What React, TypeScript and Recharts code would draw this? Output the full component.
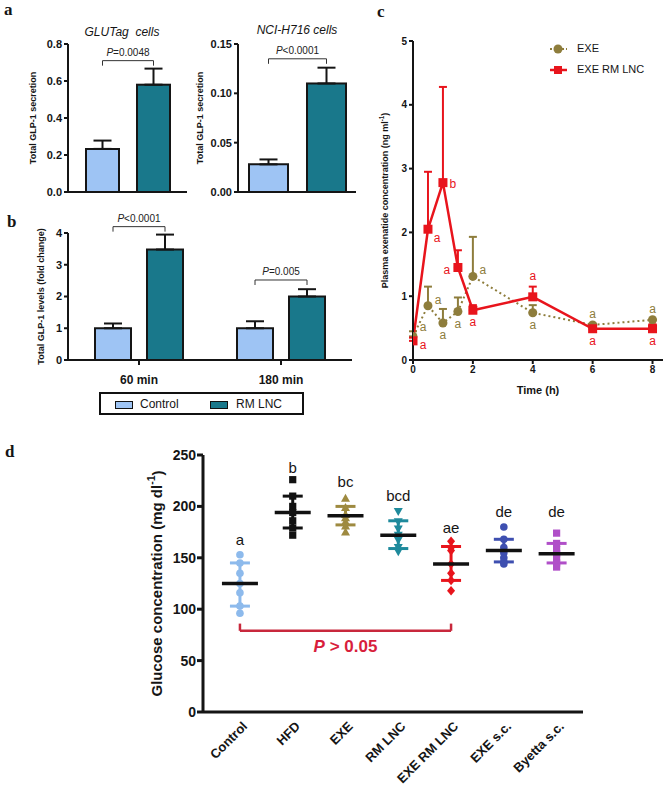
import React from "react";
import {
  BarChart,
  Bar,
  XAxis,
  YAxis,
  ErrorBar,
  LineChart,
  Line,
  ScatterChart,
  Scatter,
  ReferenceLine,
} from "recharts";

const FONT = "'Liberation Sans', Arial, Helvetica, sans-serif";
const INK = "#151515";
const CONTROL_BLUE = "#9ec4f4";
const RM_TEAL = "#19788b";
const RED = "#e8141c";
const OLIVE = "#8e7d3c";

// panel a: [Control, RM LNC]
const glutagMeans = [0.233, 0.58];
const glutagErr = [0.045, 0.087];
const glutagBracket = 0.71;
const ncMeans = [0.028, 0.11];
const ncErr = [0.005, 0.016];
const ncBracket = 0.135;

// panel b
const foldTimes = ["60 min", "180 min"];
const foldControl = [1.0, 1.0];
const foldControlErr = [0.15, 0.22];
const foldRm = [3.48, 2.0];
const foldRmErr = [0.47, 0.23];
const foldBrackets = [4.2, 2.52];
const foldP = ["<0.0001", "=0.005"];

// panel c
const hours = [0, 0.5, 1, 1.5, 2, 4, 6, 8];
const exeMean = [0.37, 0.85, 0.58, 0.76, 1.31, 0.74, 0.55, 0.63];
const exeUpper = [0.45, 1.15, 0.8, 0.98, 1.93, 0.86, 0.57, 0.63];
const rmMean = [0.3, 2.05, 2.78, 1.45, 0.78, 0.99, 0.49, 0.49];
const rmUpper = [0.35, 2.95, 4.28, 1.72, 0.86, 1.15, 0.52, 0.56];
const exeLetters = ["a", "a", "a", "a", "a", "a", "a", "a"];
const exeLetterPos = ["RUU", "RU", "D", "D", "RU", "D", "U", "U"];
const rmLetters = ["a", "a", "b", "a", "a", "a", "a", "a"];
const rmLetterPos = ["RL", "RD", "R", "L", "D", "UU", "D", "D"];

// panel d
const groups = ["Control", "HFD", "EXE", "RM LNC", "EXE RM LNC", "EXE s.c.", "Byetta s.c."];
const controlPts = [153, 145, 135, 125, 116, 103, 96];
const hfdPts = [226, 210, 200, 194, 186, 179, 172];
const exePts = [208, 199, 192, 189, 185, 181, 175];
const rmPts = [195, 185, 178, 172, 167, 160, 156];
const exeRmPts = [166, 160, 157, 144, 135, 128, 118];
const exeScPts = [180, 168, 160, 155, 150, 146, 144];
const byettaPts = [174, 164, 158, 154, 150, 145, 141];
const groupMeans = [125, 194, 191, 172, 144, 157, 154];
const sdLow = [103, 179, 182, 159, 128, 146, 145];
const sdHigh = [145, 210, 200, 186, 161, 168, 164];
const groupLetters = ["a", "b", "bc", "bcd", "ae", "de", "de"];
const letterY = [168, 238, 224, 211, 179, 195, 195];

const groupPoints = [controlPts, hfdPts, exePts, rmPts, exeRmPts, exeScPts, byettaPts];
const groupColors = ["#8dbaec", "#111111", "#9e8a40", "#1e8a9c", "#e8141c", "#3e4fb0", "#b04fc8"];
const groupMarkers = ["circle", "square", "up", "down", "diamond", "circle", "square"];

const axis2 = { stroke: INK, strokeWidth: 2 };
const tick11 = { fontSize: 11, fontWeight: 700, fill: INK, fontFamily: FONT };

function VLabel(props: any) {
  const { viewBox, text, size, dx = 0, sup } = props;
  const cx = viewBox.x + viewBox.width / 2 + dx;
  const cy = viewBox.y + viewBox.height / 2;
  return (
    <text
      x={cx}
      y={cy}
      transform={`rotate(-90 ${cx} ${cy})`}
      textAnchor="middle"
      dominantBaseline="central"
      fontSize={size}
      fontWeight={700}
      fill={INK}
      fontFamily={FONT}
    >
      {text}
      {sup && (
        <tspan dy={-size * 0.4} fontSize={size * 0.7}>
          {sup}
        </tspan>
      )}
      {sup && <tspan dy={size * 0.4}>)</tspan>}
    </text>
  );
}

// RM LNC bar with the P-value bracket back to the paired Control bar
const bracketBar = (gap: number, fontSize: number) => (props: any) => {
  const { x, y, width, height, payload } = props;
  const k = height / payload.rm;
  const by = y + height - payload.bracket * k;
  const x1 = x - gap - width / 2;
  const x2 = x + width / 2;
  return (
    <g>
      <rect x={x} y={y} width={width} height={height} fill={RM_TEAL} stroke={INK} strokeWidth={2} />
      <path d={`M${x1},${by + 5}V${by}H${x2}V${by + 5}`} fill="none" stroke="#333" strokeWidth={1} />
      <text x={(x1 + x2) / 2} y={by - 5} textAnchor="middle" fontSize={fontSize} fill="#222" fontFamily={FONT}>
        <tspan fontStyle="italic">P</tspan>
        {payload.p}
      </text>
    </g>
  );
};

const glutagRows = [
  {
    name: "GLUTag",
    control: glutagMeans[0],
    rm: glutagMeans[1],
    controlErr: [0, glutagErr[0]],
    rmErr: [0, glutagErr[1]],
    bracket: glutagBracket,
    p: "=0.0048",
  },
];
const ncRows = [
  {
    name: "NCI-H716",
    control: ncMeans[0],
    rm: ncMeans[1],
    controlErr: [0, ncErr[0]],
    rmErr: [0, ncErr[1]],
    bracket: ncBracket,
    p: "<0.0001",
  },
];
const foldRows = foldTimes.map((name, i) => ({
  name,
  control: foldControl[i],
  rm: foldRm[i],
  controlErr: [0, foldControlErr[i]],
  rmErr: [0, foldRmErr[i]],
  bracket: foldBrackets[i],
  p: foldP[i],
}));

const pkRows = hours.map((t, i) => ({
  t,
  exe: exeMean[i],
  exeErr: [0, exeUpper[i] - exeMean[i]],
  rm: rmMean[i],
  rmErr: [0, rmUpper[i] - rmMean[i]],
}));

const LETTER_OFFSET: Record<string, number[]> = {
  R: [10, 1],
  RL: [10, 4],
  RU: [10, -6],
  RUU: [10, -9],
  RD: [9, 9],
  L: [-11, 3],
  D: [0, 12],
  U: [0, -11],
  UU: [0, -21],
};

const pkDot = (kind: string, color: string, letters: string[], pos: string[]) => (props: any) => {
  const { cx, cy, index } = props;
  const [dx, dy] = LETTER_OFFSET[pos[index]];
  return (
    <g key={`${kind}-${index}`}>
      {kind === "square" ? (
        <rect x={cx - 4.5} y={cy - 4.5} width={9} height={9} fill={color} />
      ) : (
        <circle cx={cx} cy={cy} r={4.5} fill={color} />
      )}
      <text
        x={cx + dx}
        y={cy + dy}
        textAnchor="middle"
        dominantBaseline="central"
        fontSize={12}
        fill={color}
        fontFamily={FONT}
      >
        {letters[index]}
      </text>
    </g>
  );
};

const marker = (kind: string, color: string) => (props: any) => {
  const { cx, cy } = props;
  if (kind === "circle") return <circle cx={cx} cy={cy} r={3.8} fill={color} />;
  if (kind === "square") return <rect x={cx - 3.6} y={cy - 3.6} width={7.2} height={7.2} fill={color} />;
  if (kind === "up")
    return <path d={`M${cx},${cy - 4.5}L${cx + 4.5},${cy + 3.5}L${cx - 4.5},${cy + 3.5}Z`} fill={color} />;
  if (kind === "down")
    return <path d={`M${cx},${cy + 4.5}L${cx + 4.5},${cy - 3.5}L${cx - 4.5},${cy - 3.5}Z`} fill={color} />;
  return <path d={`M${cx},${cy - 4.8}L${cx + 4},${cy}L${cx},${cy + 4.8}L${cx - 4},${cy}Z`} fill={color} />;
};

const meanLine = (props: any) => {
  const { cx, cy } = props;
  return <line x1={cx - 18} x2={cx + 18} y1={cy} y2={cy} stroke="#111" strokeWidth={3.5} />;
};

const letterShape = (props: any) => {
  const { cx, cy, payload } = props;
  return (
    <text
      x={cx}
      y={cy}
      textAnchor="middle"
      dominantBaseline="central"
      fontSize={payload.size}
      fontWeight={payload.bold ? 700 : 400}
      fill={payload.color}
      fontFamily={FONT}
    >
      {payload.italic && <tspan fontStyle="italic">{payload.italic}</tspan>}
      {payload.label}
    </text>
  );
};

const GroupTick = (props: any) => {
  const { x, y, payload } = props;
  const ax = x + 5;
  const ay = y + 6;
  return (
    <text
      x={ax}
      y={ay}
      transform={`rotate(-45 ${ax} ${ay})`}
      textAnchor="end"
      dominantBaseline="central"
      fontSize={13}
      fontWeight={700}
      fill={INK}
      fontFamily={FONT}
    >
      {groups[payload.value]}
    </text>
  );
};

const letterRows = groupLetters.map((label, i) => ({ x: i, y: letterY[i], label, size: 15, color: INK }));
const pRow = [{ x: 2, y: 64, label: " > 0.05", italic: "P", size: 17, bold: true, color: "#d81e3c" }];

function PanelLetter({ x, y, ch }: { x: number; y: number; ch: string }) {
  return (
    <div
      style={{
        position: "absolute",
        left: x,
        top: y,
        fontFamily: "'Liberation Serif', 'Times New Roman', serif",
        fontWeight: 700,
        fontSize: 17,
        lineHeight: "17px",
      }}
    >
      {ch}
    </div>
  );
}

function GlpBars({ rows, width, height, margin, yWidth, domain, ticks, digits, barSize, gap, label, labelDx }: any) {
  return (
    <BarChart width={width} height={height} data={rows} margin={margin} barGap={gap} barSize={barSize}>
      <XAxis dataKey="name" tick={false} tickLine={false} axisLine={axis2} height={2} />
      <YAxis
        width={yWidth}
        domain={domain}
        ticks={ticks}
        tickFormatter={(v: number) => v.toFixed(digits)}
        tick={tick11}
        tickSize={4}
        tickLine={axis2}
        axisLine={axis2}
        interval={0}
        label={<VLabel text={label} size={9} dx={labelDx} />}
      />
      <Bar dataKey="control" fill={CONTROL_BLUE} stroke={INK} strokeWidth={2} isAnimationActive={false}>
        <ErrorBar dataKey="controlErr" width={9} stroke={INK} strokeWidth={2} direction="y" />
      </Bar>
      <Bar dataKey="rm" fill={RM_TEAL} shape={bracketBar(gap, 10)} isAnimationActive={false}>
        <ErrorBar dataKey="rmErr" width={9} stroke={INK} strokeWidth={2} direction="y" />
      </Bar>
    </BarChart>
  );
}

export default function App() {
  return (
    <div
      style={{
        position: "absolute",
        left: 0,
        top: 0,
        width: 669,
        height: 788,
        background: "#fff",
        fontFamily: FONT,
        color: INK,
        overflow: "hidden",
      }}
    >
      <PanelLetter x={4} y={1} ch="a" />
      <PanelLetter x={7} y={213} ch="b" />
      <PanelLetter x={377} y={3} ch="c" />
      <PanelLetter x={5} y={443} ch="d" />

      <div style={{ position: "absolute", left: 72, top: 25, width: 100, textAlign: "center", fontStyle: "italic", fontSize: 12 }}>
        GLUTag&nbsp;&nbsp;cells
      </div>
      <div style={{ position: "absolute", left: 237, top: 23, width: 120, textAlign: "center", fontStyle: "italic", fontSize: 12 }}>
        NCI-H716 cells
      </div>

      {/* panel a */}
      <div style={{ position: "absolute", left: 0, top: 0 }}>
        <GlpBars
          rows={glutagRows}
          width={200}
          height={200}
          margin={{ top: 44, right: 13, bottom: 6, left: 0 }}
          yWidth={68}
          domain={[0, 0.8]}
          ticks={[0, 0.2, 0.4, 0.6, 0.8]}
          digits={1}
          barSize={33}
          gap={18}
          label="Total GLP-1 secretion"
          labelDx={-1}
        />
      </div>
      <div style={{ position: "absolute", left: 190, top: 0 }}>
        <GlpBars
          rows={ncRows}
          width={180}
          height={200}
          margin={{ top: 44, right: 14, bottom: 6, left: 0 }}
          yWidth={48}
          domain={[0, 0.15]}
          ticks={[0, 0.05, 0.1, 0.15]}
          digits={2}
          barSize={39}
          gap={19}
          label="Total GLP-1 secretion"
          labelDx={-14}
        />
      </div>

      {/* panel b */}
      <div style={{ position: "absolute", left: 0, top: 200 }}>
        <BarChart
          width={370}
          height={200}
          data={foldRows}
          margin={{ top: 33, right: 18, bottom: 10, left: 0 }}
          barGap={16}
          barSize={36}
        >
          <XAxis
            dataKey="name"
            tick={{ fontSize: 12, fontWeight: 700, fill: INK, fontFamily: FONT }}
            tickSize={5}
            tickMargin={10}
            tickLine={axis2}
            axisLine={axis2}
            height={30}
          />
          <YAxis
            width={68}
            domain={[0, 4]}
            ticks={[0, 1, 2, 3, 4]}
            tick={tick11}
            tickSize={4}
            tickLine={axis2}
            axisLine={axis2}
            interval={0}
            label={<VLabel text="Total GLP-1 levels (fold change)" size={9} dx={7} />}
          />
          <Bar dataKey="control" fill={CONTROL_BLUE} stroke={INK} strokeWidth={2} isAnimationActive={false}>
            <ErrorBar dataKey="controlErr" width={9} stroke={INK} strokeWidth={2} direction="y" />
          </Bar>
          <Bar dataKey="rm" fill={RM_TEAL} shape={bracketBar(16, 10)} isAnimationActive={false}>
            <ErrorBar dataKey="rmErr" width={9} stroke={INK} strokeWidth={2} direction="y" />
          </Bar>
        </BarChart>
      </div>

      {/* legend for a and b */}
      <div
        style={{
          position: "absolute",
          left: 99,
          top: 392,
          width: 205,
          height: 23,
          border: "2px solid #111",
          boxSizing: "border-box",
          fontSize: 12,
        }}
      >
        <div style={{ position: "absolute", left: 14, top: 7, width: 16, height: 6, background: CONTROL_BLUE, border: "1.5px solid #111" }} />
        <div style={{ position: "absolute", left: 39, top: 3, lineHeight: "14px" }}>Control</div>
        <div style={{ position: "absolute", left: 109, top: 7, width: 16, height: 6, background: RM_TEAL, border: "1.5px solid #111" }} />
        <div style={{ position: "absolute", left: 135, top: 3, lineHeight: "14px" }}>RM LNC</div>
      </div>

      {/* panel c */}
      <div style={{ position: "absolute", left: 370, top: 0 }}>
        <LineChart width={299} height={400} data={pkRows} margin={{ top: 41, right: 6, bottom: 4, left: 0 }}>
          <XAxis
            type="number"
            dataKey="t"
            domain={[0, 8.35]}
            ticks={[0, 2, 4, 6, 8]}
            tick={{ fontSize: 10, fontWeight: 700, fill: INK, fontFamily: FONT }}
            tickSize={4}
            tickLine={axis2}
            axisLine={axis2}
            height={36}
            allowDataOverflow
            label={{ value: "Time (h)", position: "insideBottom", offset: 2, fontSize: 11, fontWeight: 700, fill: INK }}
          />
          <YAxis
            width={43}
            domain={[0, 5]}
            ticks={[0, 1, 2, 3, 4, 5]}
            tick={{ fontSize: 10, fontWeight: 700, fill: INK, fontFamily: FONT }}
            tickSize={4}
            tickLine={axis2}
            axisLine={axis2}
            interval={0}
            allowDataOverflow
            label={<VLabel text="Plasma exenatide concentration (ng ml" sup="-1" size={9} dx={-7} />}
          />
          <Line
            type="linear"
            dataKey="exe"
            stroke={OLIVE}
            strokeWidth={2}
            strokeDasharray="2 3"
            dot={pkDot("circle", OLIVE, exeLetters, exeLetterPos)}
            isAnimationActive={false}
          >
            <ErrorBar dataKey="exeErr" width={4} stroke={OLIVE} strokeWidth={2} direction="y" />
          </Line>
          <Line
            type="linear"
            dataKey="rm"
            stroke={RED}
            strokeWidth={2.5}
            dot={pkDot("square", RED, rmLetters, rmLetterPos)}
            isAnimationActive={false}
          >
            <ErrorBar dataKey="rmErr" width={4} stroke={RED} strokeWidth={2} direction="y" />
          </Line>
        </LineChart>
      </div>

      {/* legend for c */}
      <div style={{ position: "absolute", left: 548, top: 40, fontSize: 11 }}>
        <svg width={22} height={40} style={{ position: "absolute", left: 0, top: 0 }}>
          <line x1={2} x2={19} y1={9} y2={9} stroke={OLIVE} strokeWidth={2} strokeDasharray="2 2" />
          <circle cx={10} cy={9} r={4.5} fill={OLIVE} />
          <line x1={2} x2={19} y1={30} y2={30} stroke={RED} strokeWidth={2.5} />
          <rect x={6} y={26} width={8} height={8} fill={RED} />
        </svg>
        <div style={{ position: "absolute", left: 29, top: 2, whiteSpace: "nowrap" }}>EXE</div>
        <div style={{ position: "absolute", left: 29, top: 23, whiteSpace: "nowrap" }}>EXE RM LNC</div>
      </div>

      {/* panel d */}
      <div style={{ position: "absolute", left: 100, top: 420 }}>
        <ScatterChart width={569} height={368} margin={{ top: 35, right: 86, bottom: 0, left: 0 }}>
          <XAxis
            type="number"
            dataKey="x"
            domain={[-0.7, 6.5]}
            ticks={[0, 1, 2, 3, 4, 5, 6]}
            interval={0}
            tick={<GroupTick />}
            tickLine={false}
            tickSize={4}
            axisLine={{ stroke: INK, strokeWidth: 3 }}
            height={76}
            allowDataOverflow
          />
          <YAxis
            type="number"
            dataKey="y"
            width={103}
            domain={[0, 250]}
            ticks={[0, 50, 100, 150, 200, 250]}
            interval={0}
            tick={{ fontSize: 14, fontWeight: 700, fill: INK, fontFamily: FONT }}
            tickSize={6}
            tickMargin={1}
            tickLine={{ stroke: INK, strokeWidth: 3 }}
            axisLine={{ stroke: INK, strokeWidth: 3 }}
            allowDataOverflow
            label={<VLabel text="Glucose concentration (mg dl" sup="-1" size={15} dx={5} />}
          />
          <ReferenceLine segment={[{ x: 0, y: 79 }, { x: 4, y: 79 }]} stroke="#c8283c" strokeWidth={2.5} />
          <ReferenceLine segment={[{ x: 0, y: 79 }, { x: 0, y: 86 }]} stroke="#c8283c" strokeWidth={2.5} />
          <ReferenceLine segment={[{ x: 4, y: 79 }, { x: 4, y: 86 }]} stroke="#c8283c" strokeWidth={2.5} />
          {groups.map((g, i) => (
            <Scatter
              key={`pts-${g}`}
              name={g}
              data={groupPoints[i].map((y) => ({ x: i, y }))}
              shape={marker(groupMarkers[i], groupColors[i])}
              isAnimationActive={false}
            />
          ))}
          {groups.map((g, i) => (
            <Scatter
              key={`sum-${g}`}
              data={[{ x: i, y: groupMeans[i], sd: [groupMeans[i] - sdLow[i], sdHigh[i] - groupMeans[i]] }]}
              shape={meanLine}
              isAnimationActive={false}
            >
              <ErrorBar dataKey="sd" direction="y" width={10} stroke={groupColors[i]} strokeWidth={3} />
            </Scatter>
          ))}
          <Scatter data={letterRows} shape={letterShape} isAnimationActive={false} />
          <Scatter data={pRow} shape={letterShape} isAnimationActive={false} />
        </ScatterChart>
      </div>
    </div>
  );
}
